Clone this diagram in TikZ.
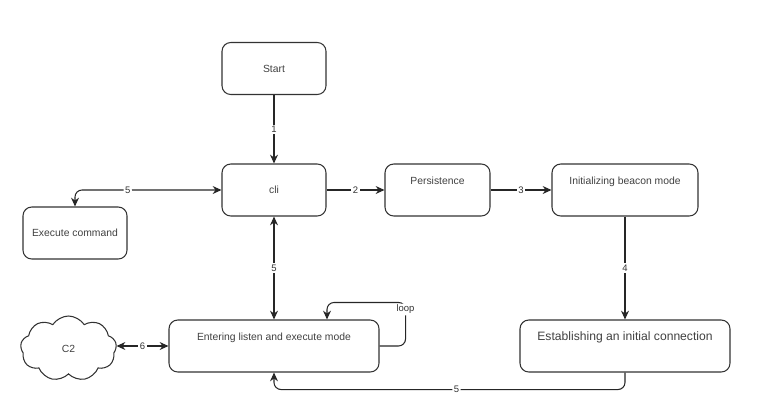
\documentclass[tikz,border=0pt]{standalone}
\usepackage{fontspec}
\setmainfont{Liberation Sans}
\usetikzlibrary{arrows.meta, shapes.symbols, calc}

\tikzset{
    box/.style={draw=black!80, line width=0.6pt, rounded corners=5pt, minimum width=2.08cm, minimum height=1.04cm, text=black!75, font=\fontsize{5.9}{7}\selectfont},
    boxtop/.style={box, text height=0.15cm, text depth=0.36cm},
    lbl/.style={fill=white, inner sep=0.8pt, text=black!80, font=\fontsize{5.4}{6}\selectfont},
    link/.style={draw=black!85, line width=0.6pt, >={Stealth[length=5pt, width=4.5pt]}},
}

\begin{document}
\begin{tikzpicture}
            \useasboundingbox (0,0) rectangle (15.16,8.16);

            \node[box] (start) at (5.48,6.79) {Start};
            \node[box] (cli) at (5.48,4.36) {cli};
            \node[box] (exec) at (1.50,3.50) {Execute command};
            \node[boxtop, minimum width=2.1cm] (persist) at (8.75,4.36) {Persistence};
            \node[boxtop, minimum width=2.92cm] (beacon) at (12.5,4.36) {Initializing beacon mode};
            \node[boxtop, minimum width=4.2cm, font=\fontsize{6.9}{8}\selectfont] (conn) at (12.5,1.24) {Establishing an initial connection};
            \node[boxtop, minimum width=4.2cm] (listen) at (5.48,1.24) {Entering listen and execute mode};
            \node[cloud, draw=black!80, line width=0.6pt, cloud puffs=9, cloud puff arc=115, cloud ignores aspect, minimum width=1.92cm, minimum height=1.3cm, text=black!75, font=\fontsize{5.9}{7}\selectfont] (c2) at (1.37,1.19) {C2};

            \draw[link, ->] (start.south) -- node[lbl] {1} (cli.north);
            \draw[link, ->] (cli.east) -- node[lbl] {2} (persist.west);
            \draw[link, ->] (persist.east) -- node[lbl] {3} (beacon.west);
            \draw[link, ->] (beacon.south) -- node[lbl] {4} (conn.north);
            \draw[link, <->] (cli.south) -- node[lbl] {5} (listen.north);
            \draw[link, <->, rounded corners=4pt] (cli.west) -| node[lbl, pos=0.32] {5} (exec.north);
            \draw[link, <->] (listen.west) -- node[lbl] {6} (listen.west -| c2.east);
            \draw[link, ->, rounded corners=4pt] (conn.south) -- ++(0,-0.34) coordinate (low) -| node[lbl, pos=0.24] {5} (listen.south);

            % loop back into the listen box
            \coordinate (top) at ($(listen.north)+(1.06,0)$);
            \draw[link, ->, rounded corners=4pt] (listen.east) -- ++(0.52,0) |- node[lbl, pos=0.42] {loop} ($(top)+(0,0.34)$) -- (top);
\end{tikzpicture}
\end{document}
